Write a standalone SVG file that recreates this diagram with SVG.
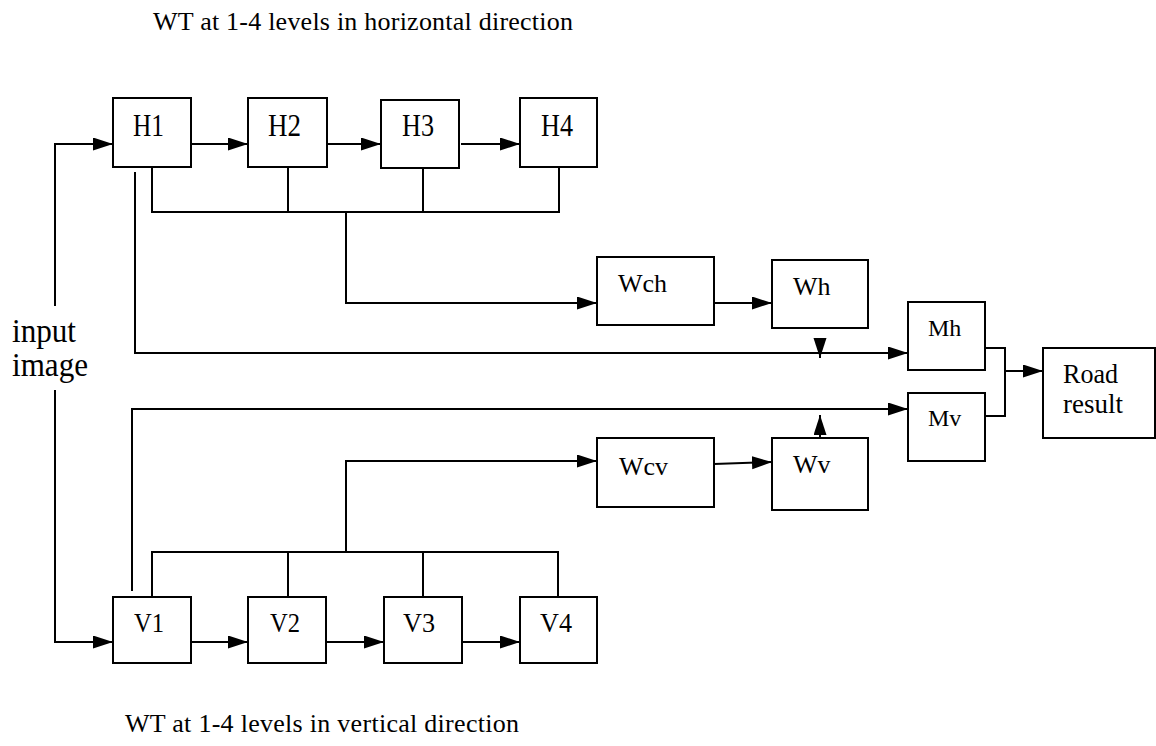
<svg xmlns="http://www.w3.org/2000/svg" width="1156" height="746" viewBox="0 0 1156 746">
<style>
.box{fill:#fff;stroke:#000;stroke-width:2}
.ln{fill:none;stroke:#000;stroke-width:2}
.t{font-family:"Liberation Serif","Times New Roman",serif;fill:#000}
.h{font-size:31px}
.v{font-size:27px}
</style>
<defs>
<marker id="ah" markerUnits="userSpaceOnUse" markerWidth="20" markerHeight="14" refX="20" refY="6.5" orient="auto">
<path d="M0,0 L20,6.5 L0,13 z" fill="#000"/>
</marker>
</defs>
<rect width="1156" height="746" fill="#fff"/>
<text class="t" x="153" y="30" font-size="26" textLength="420">WT at 1-4 levels in horizontal direction</text>
<text class="t" x="125" y="732" font-size="26" textLength="394">WT at 1-4 levels in vertical direction</text>
<g id="input"><text class="t" x="12" y="342" font-size="33" textLength="64" lengthAdjust="spacingAndGlyphs">input</text><text class="t" x="12" y="376" font-size="33" textLength="76" lengthAdjust="spacingAndGlyphs">image</text></g>
<g id="connectors">
<path class="ln" d="M55,306 V144 H113" marker-end="url(#ah)"/>
<path class="ln" d="M55,390 V642 H113" marker-end="url(#ah)"/>
<path class="ln" d="M191,144 H248" marker-end="url(#ah)"/>
<path class="ln" d="M327,144 H381" marker-end="url(#ah)"/>
<path class="ln" d="M461,144 H520" marker-end="url(#ah)"/>
<path class="ln" d="M191,642 H248" marker-end="url(#ah)"/>
<path class="ln" d="M327,642 H384" marker-end="url(#ah)"/>
<path class="ln" d="M462,642 H520" marker-end="url(#ah)"/>
<path class="ln" d="M152,167 V212 H559 V167 M288,167 V212 M423,168 V212"/>
<path class="ln" d="M346,212 V303 H597" marker-end="url(#ah)"/>
<path class="ln" d="M714,303 H772" marker-end="url(#ah)"/>
<path class="ln" d="M135,172 V353 H908" marker-end="url(#ah)"/>
<path class="ln" d="M820,338 V358" marker-end="url(#ah)"/>
<path class="ln" d="M985,348 H1005 V416 H985"/>
<path class="ln" d="M1005,371 H1043" marker-end="url(#ah)"/>
<path class="ln" d="M152,597 V552 H558 V597 M288,597 V552 M423,597 V552"/>
<path class="ln" d="M346,552 V461 H597" marker-end="url(#ah)"/>
<path class="ln" d="M714,464 L772,462" marker-end="url(#ah)"/>
<path class="ln" d="M132,591 V409 H908" marker-end="url(#ah)"/>
<path class="ln" d="M820,446 V415" marker-end="url(#ah)"/>
</g>
<g id="H1"><rect class="box" x="113" y="98" width="78" height="69"/><text class="t h" x="133" y="136" textLength="31" lengthAdjust="spacingAndGlyphs">H1</text></g>
<g id="H2"><rect class="box" x="248" y="98" width="79" height="69"/><text class="t h" x="268" y="136" textLength="33" lengthAdjust="spacingAndGlyphs">H2</text></g>
<g id="H3"><rect class="box" x="381" y="100" width="78" height="68"/><text class="t h" x="402" y="136" textLength="32" lengthAdjust="spacingAndGlyphs">H3</text></g>
<g id="H4"><rect class="box" x="520" y="98" width="77" height="69"/><text class="t h" x="541" y="136" textLength="32" lengthAdjust="spacingAndGlyphs">H4</text></g>
<g id="V1"><rect class="box" x="113" y="597" width="78" height="66"/><text class="t v" x="134" y="632" textLength="30" lengthAdjust="spacingAndGlyphs">V1</text></g>
<g id="V2"><rect class="box" x="248" y="597" width="78" height="66"/><text class="t v" x="270" y="632" textLength="30" lengthAdjust="spacingAndGlyphs">V2</text></g>
<g id="V3"><rect class="box" x="384" y="597" width="78" height="66"/><text class="t v" x="403" y="632" textLength="32" lengthAdjust="spacingAndGlyphs">V3</text></g>
<g id="V4"><rect class="box" x="520" y="597" width="77" height="66"/><text class="t v" x="540" y="632" textLength="32" lengthAdjust="spacingAndGlyphs">V4</text></g>
<g id="Wch"><rect class="box" x="597" y="257" width="117" height="68"/><text class="t" x="618" y="292" font-size="26">Wch</text></g>
<g id="Wh"><rect class="box" x="772" y="260" width="96" height="68"/><text class="t" x="793" y="295" font-size="26">Wh</text></g>
<g id="Wcv"><rect class="box" x="597" y="438" width="117" height="69"/><text class="t" x="619" y="475" font-size="26">Wcv</text></g>
<g id="Wv"><rect class="box" x="772" y="438" width="96" height="72"/><text class="t" x="793" y="473" font-size="26">Wv</text></g>
<g id="Mh"><rect class="box" x="908" y="302" width="77" height="68"/><text class="t" x="928" y="336" font-size="24">Mh</text></g>
<g id="Mv"><rect class="box" x="908" y="393" width="77" height="68"/><text class="t" x="928" y="426" font-size="24">Mv</text></g>
<g id="Road"><rect class="box" x="1043" y="348" width="112" height="90"/><text class="t" x="1063" y="383" font-size="28" textLength="55" lengthAdjust="spacingAndGlyphs">Road</text><text class="t" x="1063" y="413" font-size="28" textLength="60" lengthAdjust="spacingAndGlyphs">result</text></g>
</svg>
